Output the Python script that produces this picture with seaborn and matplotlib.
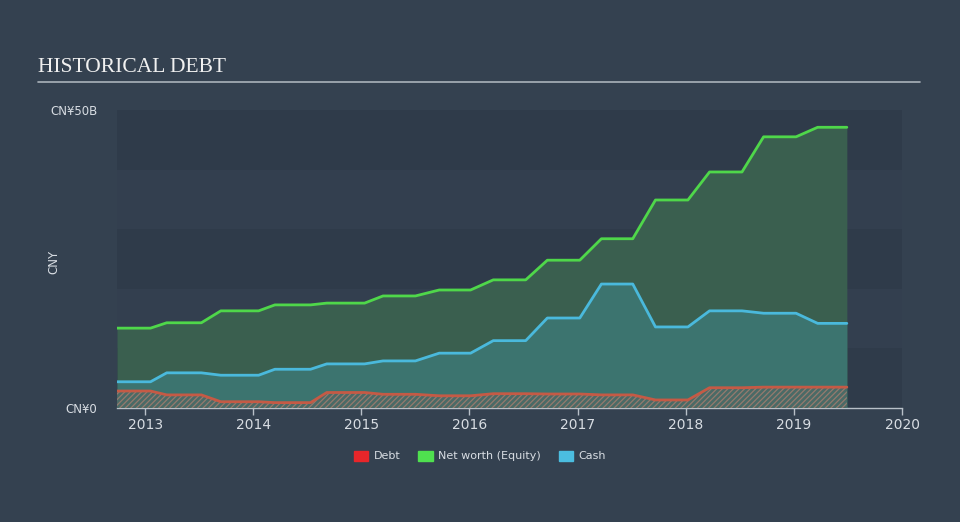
import numpy as np
import pandas as pd
import matplotlib
matplotlib.use("Agg")
import matplotlib.pyplot as plt
from matplotlib.patches import Patch
import seaborn as sns

# Data (CNY billions, decimal years)
dates = [2012.74, 2013.05, 2013.20, 2013.52, 2013.70, 2014.05, 2014.20, 2014.53,
         2014.68, 2015.03, 2015.20, 2015.50, 2015.72, 2016.01, 2016.22, 2016.52,
         2016.72, 2017.02, 2017.22, 2017.51, 2017.72, 2018.02, 2018.22, 2018.52,
         2018.72, 2019.02, 2019.22, 2019.49]
equity = [13.4, 13.4, 14.3, 14.3, 16.3, 16.3, 17.3, 17.3, 17.6, 17.6, 18.8, 18.8,
          19.8, 19.8, 21.5, 21.5, 24.8, 24.8, 28.4, 28.4, 34.9, 34.9, 39.6, 39.6,
          45.5, 45.5, 47.1, 47.1]
cash = [4.4, 4.4, 5.9, 5.9, 5.5, 5.5, 6.5, 6.5, 7.4, 7.4, 7.9, 7.9,
        9.2, 9.2, 11.3, 11.3, 15.1, 15.1, 20.8, 20.8, 13.6, 13.6, 16.3, 16.3,
        15.9, 15.9, 14.2, 14.2]
debt = [2.85, 2.85, 2.2, 2.2, 1.05, 1.05, 0.9, 0.9, 2.6, 2.6, 2.3, 2.3,
        2.05, 2.05, 2.4, 2.4, 2.35, 2.35, 2.2, 2.2, 1.35, 1.35, 3.4, 3.4,
        3.5, 3.5, 3.5, 3.5]
year_ticks = [2013, 2014, 2015, 2016, 2017, 2018, 2019, 2020]

df = pd.DataFrame({"date": dates, "equity": equity, "cash": cash, "debt": debt})

BG = "#344150"
sns.set_theme(style="dark", rc={"figure.facecolor": BG, "axes.facecolor": BG,
                                "hatch.linewidth": 0.9})
plt.rcParams["font.family"] = ["DejaVu Sans"]

fig = plt.figure(figsize=(9.6, 5.22), dpi=100)
ax = fig.add_axes([117 / 960, 1 - 408 / 522, (902 - 117) / 960, (408 - 110) / 522])

# banded background
band_cols = ["#2f3b4a", "#333f4f"]
for i in range(5):
    ax.axhspan(i * 10, (i + 1) * 10, color=band_cols[i % 2], lw=0, zorder=0)

ax.fill_between(df["date"], 0, df["equity"], color="#3a5f4f", lw=0, zorder=1)
ax.fill_between(df["date"], 0, df["cash"], color="#3c746f", lw=0, zorder=2)
ax.fill_between(df["date"], 0, df["debt"], facecolor="#4a6a66", edgecolor="#957a6e",
                hatch="//////", lw=0, zorder=3)

sns.lineplot(data=df, x="date", y="equity", color="#4fd74a", lw=2, ax=ax, zorder=4)
sns.lineplot(data=df, x="date", y="cash", color="#4ab9dc", lw=2, ax=ax, zorder=4)
sns.lineplot(data=df, x="date", y="debt", color="#c55a45", lw=2, ax=ax, zorder=4)

ax.set_xlim(2012.74, 2020)
ax.set_ylim(0, 50)
ax.set_xticks(year_ticks)
ax.set_xticklabels([str(y) for y in year_ticks], color="#d8dde3", fontsize=10)
ax.set_yticks([0, 50])
ax.set_yticklabels(["CN¥0", "CN¥50B"], color="#d8dde3", fontsize=8.5)
ax.tick_params(axis="x", length=5, color="#b8c0c8", width=1, pad=2, bottom=True)
ax.tick_params(axis="y", length=0, pad=14)
ax.set_xlabel("")
ax.set_ylabel("CNY", color="#d8dde3", fontsize=8.5)
ax.yaxis.set_label_coords(-0.072, 0.49)
for s in ["top", "right", "left"]:
    ax.spines[s].set_visible(False)
ax.spines["bottom"].set_color("#b8c0c8")
ax.spines["bottom"].set_linewidth(1)
ax.grid(False)

# title and underline
fig.text(38 / 960, 1 - 67 / 522, "HISTORICAL DEBT", fontsize=15.5, color="#f0f0f0",
         family="Liberation Serif", va="center", ha="left")
fig.add_artist(plt.Line2D([38 / 960, 920 / 960], [1 - 82 / 522, 1 - 82 / 522],
                          color="#aab2ba", lw=1.2))

handles = [Patch(color="#e8262a", label="Debt"),
           Patch(color="#4fe04f", label="Net worth (Equity)"),
           Patch(color="#4bbde0", label="Cash")]
leg = fig.legend(handles=handles, loc="center", bbox_to_anchor=(0.5, 1 - 456 / 522),
                 ncol=3, frameon=False, fontsize=8, handlelength=1.3, handleheight=1.0,
                 columnspacing=1.6, handletextpad=0.5)
for t in leg.get_texts():
    t.set_color("#d8dde3")

fig.savefig("out.png", dpi=100, facecolor=BG)
